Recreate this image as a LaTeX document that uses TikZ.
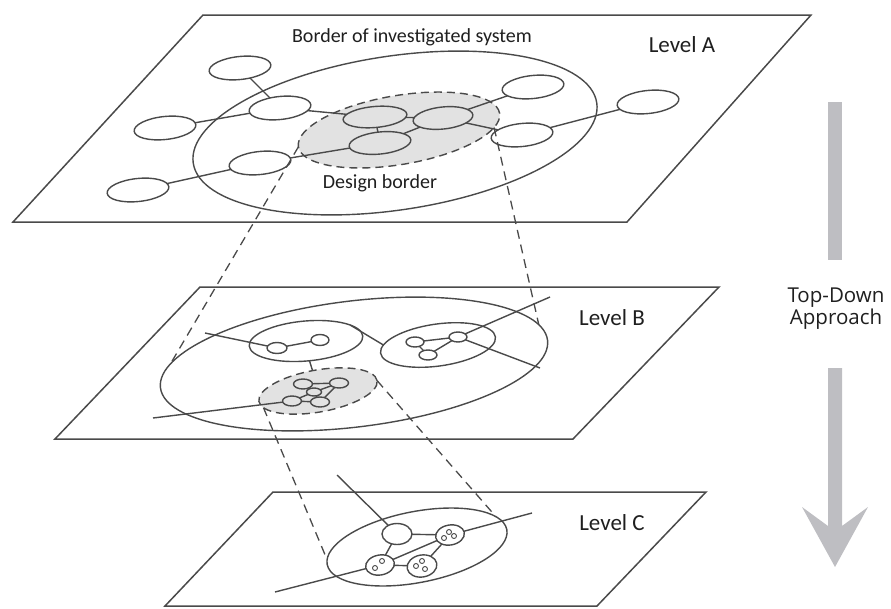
\documentclass[tikz,border=0pt]{standalone}
\usepackage{fontspec}
\setmainfont{Carlito}
\newfontfamily\approachfont{Open Sans}
\usetikzlibrary{shapes.geometric}
\definecolor{ink}{HTML}{4A4A4A}
\definecolor{shadefill}{HTML}{E2E2E2}
\definecolor{arrowgray}{HTML}{BEBEC2}
\tikzset{
  plane/.style={draw=ink, line width=1.5pt, line join=miter},
  bub/.style={ellipse, draw=ink, line width=1.4pt, inner sep=0pt, outer sep=0pt},
  link/.style={draw=ink, line width=1.4pt},
  proj/.style={draw=ink, line width=1.3pt, dash pattern=on 9pt off 6pt},
  border/.style={bub, dash pattern=on 8pt off 5pt, fill=shadefill},
  lbl/.style={inner sep=0pt, text=black!88},
  dot/.style={circle, draw=ink, line width=0.9pt, inner sep=0pt, minimum size=5pt},
}
\begin{document}
\begin{tikzpicture}[x=1pt, y=-1pt]
\useasboundingbox (0,0) rectangle (891,608);

% ---------------- Level A ----------------
\coordinate (pA1) at (203,15);
\coordinate (pA2) at (811,15);
\coordinate (pA3) at (627,222);
\coordinate (pA4) at (13,222);
\draw[plane] (pA1) -- (pA2) -- (pA3) -- (pA4) -- cycle;

\node[bub, minimum width=408, minimum height=154, rotate=8.5] (sysA) at (395,133) {};
\node[border, minimum width=204, minimum height=69, rotate=9.5] (desA) at (399,130) {};

\node[bub, minimum width=62, minimum height=23, rotate=6] (a1) at (240,68) {};
\node[bub, minimum width=62, minimum height=23, rotate=6] (a2) at (165,128) {};
\node[bub, minimum width=62, minimum height=23, rotate=6] (a3) at (280,108) {};
\node[bub, minimum width=62, minimum height=23, rotate=6] (a4) at (260,163) {};
\node[bub, minimum width=62, minimum height=23, rotate=6] (a5) at (138,190) {};
\node[bub, minimum width=62, minimum height=23, rotate=6] (a6) at (533,87) {};
\node[bub, minimum width=62, minimum height=23, rotate=6] (a7) at (522,135) {};
\node[bub, minimum width=62, minimum height=23, rotate=6] (a8) at (648,102) {};
\node[bub, minimum width=64, minimum height=21, rotate=5] (c1) at (375,117) {};
\node[bub, minimum width=60, minimum height=22, rotate=6] (c2) at (443,118) {};
\node[bub, minimum width=62, minimum height=22, rotate=6] (c3) at (380,143) {};

\draw[link] (a1) -- (a3);
\draw[link] (a2) -- (a3);
\draw[link] (a3) -- (c1);
\draw[link] (a4) -- (a5);
\draw[link] (a4) -- (c3);
\draw[link] (c1) -- (c2);
\draw[link] (c1) -- (c3);
\draw[link] (c2) -- (c3);
\draw[link] (c2) -- (a6);
\draw[link] (c2) -- (a7);
\draw[link] (a7) -- (a8);

\node[lbl, font=\fontsize{20}{23}\selectfont] (tBorder) at (412,37) {Border of investigated system};
\node[lbl, font=\fontsize{20}{23}\selectfont] (tDesign) at (380,183) {Design border};
\node[lbl, font=\fontsize{23}{26}\selectfont] (tLevelA) at (682,45) {Level A};

% ---------------- Level B ----------------
\coordinate (pB1) at (200,287);
\coordinate (pB2) at (719,287);
\coordinate (pB3) at (573,439);
\coordinate (pB4) at (55,439);
\draw[plane] (pB1) -- (pB2) -- (pB3) -- (pB4) -- cycle;

\node[bub, minimum width=390, minimum height=126, rotate=7] (sysB) at (354,364) {};
\node[bub, minimum width=114, minimum height=40, rotate=5] (b1) at (306,341) {};
\node[bub, minimum width=116, minimum height=42, rotate=8] (b2) at (438,345) {};
\node[border, minimum width=120, minimum height=42, rotate=10] (b3) at (318,391) {};

\node[bub, minimum width=20, minimum height=11] (s1) at (277,348) {};
\node[bub, minimum width=18, minimum height=11] (s2) at (320,340) {};
\draw[link] (s1) -- (s2);

\node[bub, minimum width=18, minimum height=10] (t1) at (415,342) {};
\node[bub, minimum width=18, minimum height=10] (t2) at (428,355) {};
\node[bub, minimum width=18, minimum height=10] (t3) at (458,337) {};
\draw[link] (t1) -- (t2);
\draw[link] (t2) -- (t3);
\draw[link] (t1) -- (t3);

\node[bub, minimum width=19, minimum height=10] (m1) at (303,384) {};
\node[bub, minimum width=19, minimum height=10] (m2) at (339,383) {};
\node[bub, minimum width=15, minimum height=8] (m3) at (314,392) {};
\node[bub, minimum width=19, minimum height=10] (m4) at (292,401) {};
\node[bub, minimum width=19, minimum height=10] (m5) at (320,402) {};
\draw[link] (m1) -- (m2);
\draw[link] (m1) -- (m3);
\draw[link] (m2) -- (m3);
\draw[link] (m3) -- (m4);
\draw[link] (m3) -- (m5);
\draw[link] (m4) -- (m5);
\draw[link] (m2) -- (m5);

\coordinate (eB1) at (205,333);
\coordinate (eB2) at (550,297);
\coordinate (eB3) at (540,368);
\coordinate (eB4) at (153,418);
\draw[link] (eB1) -- (s1);
\draw[link] (b1.15) -- (b2.172);
\draw[link] (b1.-85) -- (b3.95);
\draw[link] (t3) -- (eB2);
\draw[link] (t3) -- (eB3);
\draw[link] (eB4) -- (m4);

\node[lbl, font=\fontsize{23}{26}\selectfont] (tLevelB) at (612,318) {Level B};

% ---------------- Level C ----------------
\coordinate (pC1) at (273,492);
\coordinate (pC2) at (706,492);
\coordinate (pC3) at (597,606);
\coordinate (pC4) at (165,606);
\draw[plane] (pC1) -- (pC2) -- (pC3) -- (pC4) -- cycle;

\node[bub, minimum width=183, minimum height=71, rotate=11] (sysC) at (417,547) {};
\node[bub, minimum width=30, minimum height=21] (n1) at (397,534) {};
\node[bub, minimum width=29, minimum height=20, rotate=10] (n2) at (450,535) {};
\node[bub, minimum width=29, minimum height=20, rotate=10] (n3) at (380,565) {};
\node[bub, minimum width=30, minimum height=22, rotate=10] (n4) at (422,566) {};

\node[dot] (d21) at (444,538) {};
\node[dot] (d22) at (449,532) {};
\node[dot] (d23) at (454,536) {};
\node[dot] (d31) at (375,568) {};
\node[dot] (d32) at (382,561) {};
\node[dot] (d41) at (416,566) {};
\node[dot] (d42) at (422,561) {};
\node[dot] (d43) at (425,569) {};

\coordinate (eC1) at (337,475);
\coordinate (eC2) at (275,592);
\coordinate (eC3) at (532,513);
\draw[link] (eC1) -- (n1);
\draw[link] (n1) -- (n2);
\draw[link] (n1) -- (n3);
\draw[link] (n3) -- (n4);
\draw[link] (n2) -- (n4);
\draw[link] (eC2) -- (n3);
\draw[link] (n3) -- (n2);
\draw[link] (n2) -- (eC3);

\node[lbl, font=\fontsize{23}{26}\selectfont] (tLevelC) at (612,523) {Level C};

% ---------------- projections between levels ----------------
\draw[proj] (desA.west) -- (sysB.173);
\draw[proj] (desA.-8) -- (sysB.5);
\draw[proj] (b3.187) -- (sysC.177);
\draw[proj] (b3.east) -- (sysC.10);

% ---------------- top-down arrow ----------------
\fill[arrowgray] (828,102) rectangle (842,260);
\fill[arrowgray] (828,368) -- (842,368) -- (842,526) -- (868,507) -- (835,567)
  -- (802,507) -- (828,526) -- cycle;
\node[lbl, align=center, font=\approachfont\fontsize{20.5}{22}\selectfont] (tApproach) at (836,309) {Top-Down\\Approach};
\end{tikzpicture}
\end{document}
